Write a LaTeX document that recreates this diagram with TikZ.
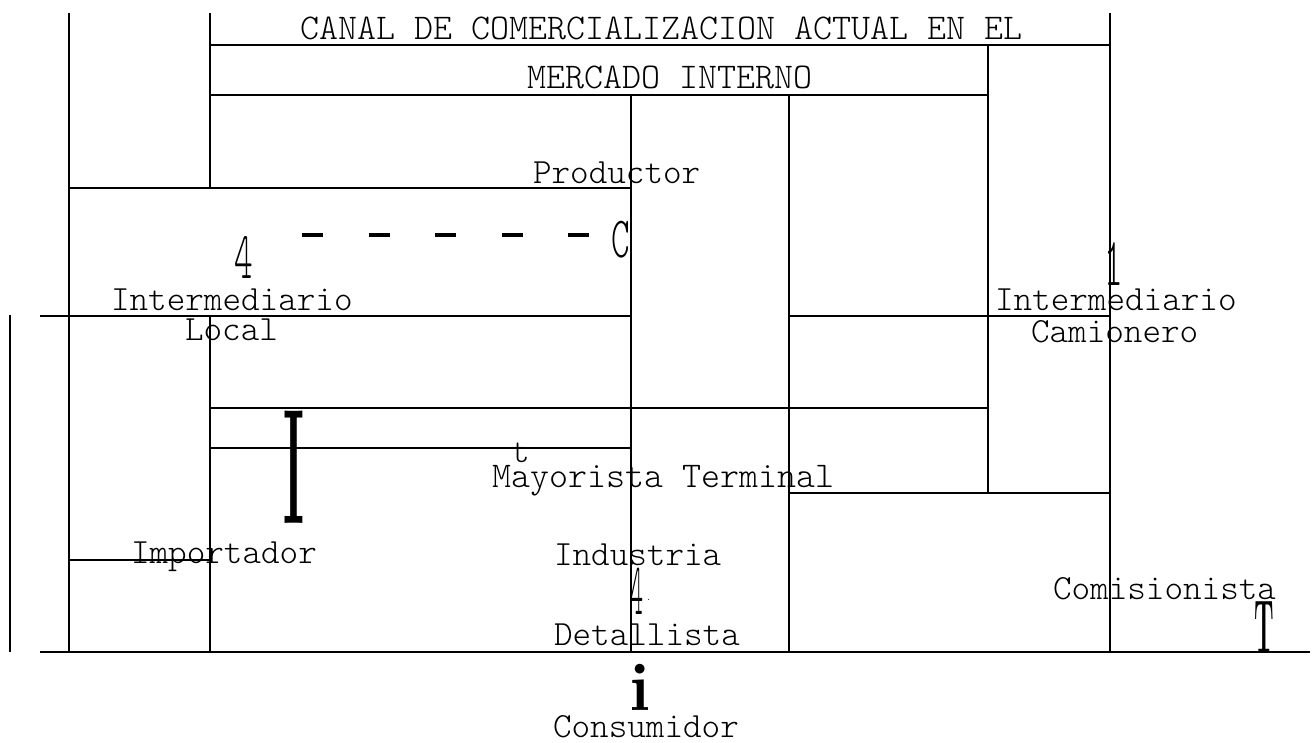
\documentclass[tikz,border=0pt]{standalone}
\usepackage{fontspec}
\newfontfamily\lmlight{lmmonolt10-regular}[Extension=.otf]
\begin{document}
\begin{tikzpicture}[x=1pt,y=-1pt,line width=2.9pt,
  every node/.style={inner sep=0pt,outer sep=0pt},
  lbl/.style={font=\lmlight\fontsize{35.4}{35.4}\selectfont,anchor=base west},
  lblw/.style={font=\lmlight\fontsize{36.2}{36.2}\selectfont,anchor=base west},
  glyph/.style={anchor=base west},
  dashrule/.style={line width=4.5pt,dash pattern=on 21pt off 45.5pt}]
\useasboundingbox (0,0) rectangle (1313,743);
% vertical rules
\draw (10,315) -- (10,652);
\draw (69,13) -- (69,652);
\draw (210,13) -- (210,188);
\draw (210,316) -- (210,652);
\draw (631,95) -- (631,652);
\draw (789,95) -- (789,652);
\draw (988,45) -- (988,493);
\draw (1110,13) -- (1110,652);
% horizontal rules
\draw (210,45) -- (1110,45);
\draw (210,95) -- (988,95);
\draw (69,188) -- (631,188);
\draw (40,316) -- (631,316);
\draw (789,316) -- (1110,316);
\draw (210,408) -- (988,408);
\draw (210,448) -- (631,448);
\draw (789,493) -- (1110,493);
\draw (69,560) -- (210,560);
\draw (40,652) -- (1310,652);
% dashed line
\draw[dashrule] (302,235) -- (590,235);
% texts
\node[lblw] (title1) at (300,40) {CANAL DE COMERCIALIZACION ACTUAL EN EL};
\node[lblw] (title2) at (527,89) {MERCADO INTERNO};
\node[lbl] (prod) at (533,184) {Productor};
\node[lbl] (il1) at (111,310) {Intermediario};
\node[lbl] (il2) at (185,340) {Local};
\node[lbl] (ic1) at (995,310) {Intermediario};
\node[lbl] (ic2) at (1031,342) {Camionero};
\node[lblw] (may) at (492,487) {Mayorista Terminal};
\node[lbl] (imp) at (131,563) {Importador};
\node[lbl] (ind) at (554,565) {Industria};
\node[lbl] (det) at (554,645) {Detallista};
\node[lbl] (con) at (553,737) {Consumidor};
\node[lbl] (com) at (1053,599) {Comisionista};
\node[lbl] (tt) at (511,462) {t};
% stretched glyphs
\node[lbl] (gc) at (611,258) {\scalebox{1}[1.65]{C}};
\node[lbl] (g4a) at (234,278) {\scalebox{1}[1.9]{4}};
\node[lbl] (g1) at (1104,285) {\scalebox{1}[1.95]{1}};
\node[lbl] (g4b) at (630,614) {\scalebox{0.7}[2.1]{4}};
\node[glyph,font=\lmlight\fontsize{10}{10}\selectfont] (gdot) at (646,600) {.};
\node[glyph,font=\bfseries\fontsize{68}{68}\selectfont] (gi) at (629,710) {i};
\node[glyph,font=\bfseries\fontsize{25}{25}\selectfont] (gT) at (1254,652) {\scalebox{1}[3]{T}};
\node[glyph,font=\bfseries\fontsize{40}{40}\selectfont] (gI) at (283,523) {\scalebox{1.25}[4.1]{I}};
\end{tikzpicture}
\end{document}
